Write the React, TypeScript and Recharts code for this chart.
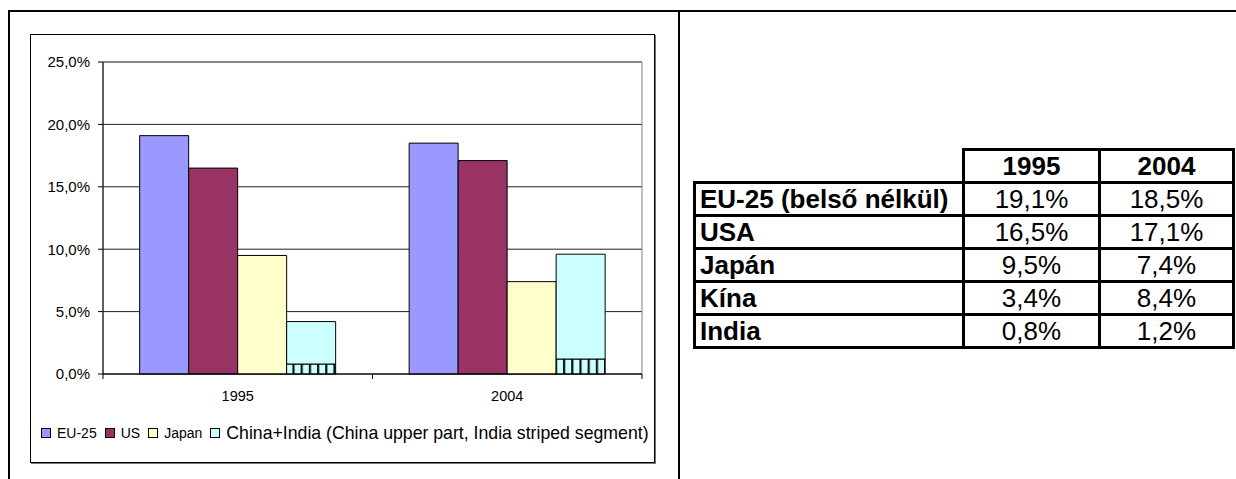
import { Bar, BarChart, CartesianGrid, ReferenceArea, XAxis, YAxis } from "recharts";

const YEARS = ["1995", "2004"];
const EU25 = [19.1, 18.5];
const US = [16.5, 17.1];
const JAPAN = [9.5, 7.4];
const CHINA = [3.4, 8.4];
const INDIA = [0.8, 1.2];
const Y_TICKS = [0, 5, 10, 15, 20, 25];

const TABLE_LABELS = ["EU-25 (belső nélkül)", "USA", "Japán", "Kína", "India"];
const TABLE_VALUES = [EU25, US, JAPAN, CHINA, INDIA];

const LEGEND = [
  { name: "EU-25", color: "#9999ff", size: 14 },
  { name: "US", color: "#993366", size: 14 },
  { name: "Japan", color: "#ffffcc", size: 14 },
  { name: "China+India (China upper part, India striped segment)", color: "#ccffff", size: 17.7 },
];

const data = YEARS.map((year, i) => ({
  year,
  eu: EU25[i],
  us: US[i],
  japan: JAPAN[i],
  india: INDIA[i],
  china: CHINA[i],
}));

const FONT = "'Liberation Sans', Arial, sans-serif";
const CHART_W = 624;
const CHART_H = 428;
const MARGIN = { top: 28, right: 12, left: 0, bottom: 58 };
const Y_W = 73;
const PLOT_W = CHART_W - MARGIN.left - MARGIN.right - Y_W;
const HALF = PLOT_W / YEARS.length / 2;

const pct = (v: number) => v.toFixed(1).replace(".", ",") + "%";

function YearTick(props: any) {
  const { x, y, payload } = props;
  return (
    <g>
      <line x1={x - HALF} x2={x - HALF} y1={y} y2={y + 5} stroke="#000" />
      <line x1={x + HALF} x2={x + HALF} y1={y} y2={y + 5} stroke="#000" />
      <text x={x} y={y + 27} textAnchor="middle" fontSize={14.5} fill="#000">
        {payload.value}
      </text>
    </g>
  );
}

const line = "#000";

export default function App() {
  return (
    <div
      style={{
        position: "absolute",
        left: 0,
        top: 0,
        width: 1236,
        height: 479,
        background: "#fff",
        fontFamily: FONT,
        overflow: "hidden",
      }}
    >
      <svg width={0} height={0} style={{ position: "absolute" }}>
        <defs>
          <pattern id="stripes" patternUnits="userSpaceOnUse" width={8.2} height={10}>
            <rect width={8.2} height={10} fill="#ccffff" />
            <rect x={0} width={2.2} height={10} fill="#111" />
          </pattern>
        </defs>
      </svg>

      {/* outer frame */}
      <div style={{ position: "absolute", left: 8, top: 10, width: 1228, height: 2, background: line }} />
      <div style={{ position: "absolute", left: 8, top: 10, width: 2, height: 469, background: line }} />
      <div style={{ position: "absolute", left: 678, top: 10, width: 2, height: 469, background: line }} />

      {/* chart box */}
      <div
        style={{
          position: "absolute",
          left: 30,
          top: 34,
          width: CHART_W - 1,
          height: CHART_H - 1,
          border: "1px solid #000",
          boxShadow: "1px 1px 0 #777",
        }}
      />
      <div style={{ position: "absolute", left: 30, top: 34 }}>
        <BarChart
          width={CHART_W}
          height={CHART_H}
          data={data}
          margin={MARGIN}
          barCategoryGap="13.6%"
          barGap={0}
        >
          <CartesianGrid vertical={false} stroke="#222" />
          <ReferenceArea y1={0} y2={25} fill="none" stroke="#808080" ifOverflow="visible" />
          <XAxis
            dataKey="year"
            height={30}
            tickSize={0}
            tickMargin={0}
            tickLine={false}
            axisLine={{ stroke: "#000" }}
            tick={<YearTick />}
            interval={0}
          />
          <YAxis
            width={Y_W}
            domain={[0, 25]}
            ticks={Y_TICKS}
            tickFormatter={pct}
            tickSize={5}
            tickMargin={8}
            axisLine={{ stroke: "#000" }}
            tickLine={{ stroke: "#000" }}
            tick={{ fontSize: 15, fill: "#000" }}
          />
          <Bar dataKey="eu" stackId="s1" fill="#9999ff" stroke="#000" strokeWidth={1} isAnimationActive={false} />
          <Bar dataKey="us" stackId="s2" fill="#993366" stroke="#000" strokeWidth={1} isAnimationActive={false} />
          <Bar dataKey="japan" stackId="s3" fill="#ffffcc" stroke="#000" strokeWidth={1} isAnimationActive={false} />
          <Bar dataKey="india" stackId="s4" fill="url(#stripes)" stroke="#000" strokeWidth={1} isAnimationActive={false} />
          <Bar dataKey="china" stackId="s4" fill="#ccffff" stroke="#000" strokeWidth={1} isAnimationActive={false} />
        </BarChart>
      </div>

      {/* legend */}
      <div
        style={{
          position: "absolute",
          left: 41,
          top: 423,
          height: 20,
          display: "flex",
          alignItems: "center",
          whiteSpace: "nowrap",
        }}
      >
        {LEGEND.map((item) => (
          <div key={item.name} style={{ display: "flex", alignItems: "center", marginRight: 8 }}>
            <span
              style={{
                width: 8,
                height: 8,
                border: "1px solid #000",
                background: item.color,
                marginRight: 6,
                display: "inline-block",
              }}
            />
            <span style={{ fontSize: item.size, color: "#000" }}>{item.name}</span>
          </div>
        ))}
      </div>

      {/* table */}
      <table
        style={{
          position: "absolute",
          left: 693,
          top: 148,
          borderCollapse: "collapse",
          tableLayout: "fixed",
          fontFamily: FONT,
          fontSize: 26,
          color: "#000",
        }}
      >
        <colgroup>
          <col style={{ width: 269 }} />
          <col style={{ width: 136 }} />
          <col style={{ width: 134 }} />
        </colgroup>
        <tbody>
          <tr style={{ height: 33 }}>
            <td style={{ border: "none" }} />
            {YEARS.map((y) => (
              <td
                key={y}
                style={{ border: "3px solid #000", textAlign: "center", fontWeight: "bold", padding: 0, lineHeight: "28px" }}
              >
                {y}
              </td>
            ))}
          </tr>
          {TABLE_LABELS.map((label, r) => (
            <tr key={label} style={{ height: 33 }}>
              <td style={{ border: "3px solid #000", fontWeight: "bold", padding: "0 4px", lineHeight: "28px" }}>
                {label}
              </td>
              {TABLE_VALUES[r].map((v, c) => (
                <td key={c} style={{ border: "3px solid #000", textAlign: "center", padding: 0, lineHeight: "28px" }}>
                  {pct(v)}
                </td>
              ))}
            </tr>
          ))}
        </tbody>
      </table>
    </div>
  );
}
